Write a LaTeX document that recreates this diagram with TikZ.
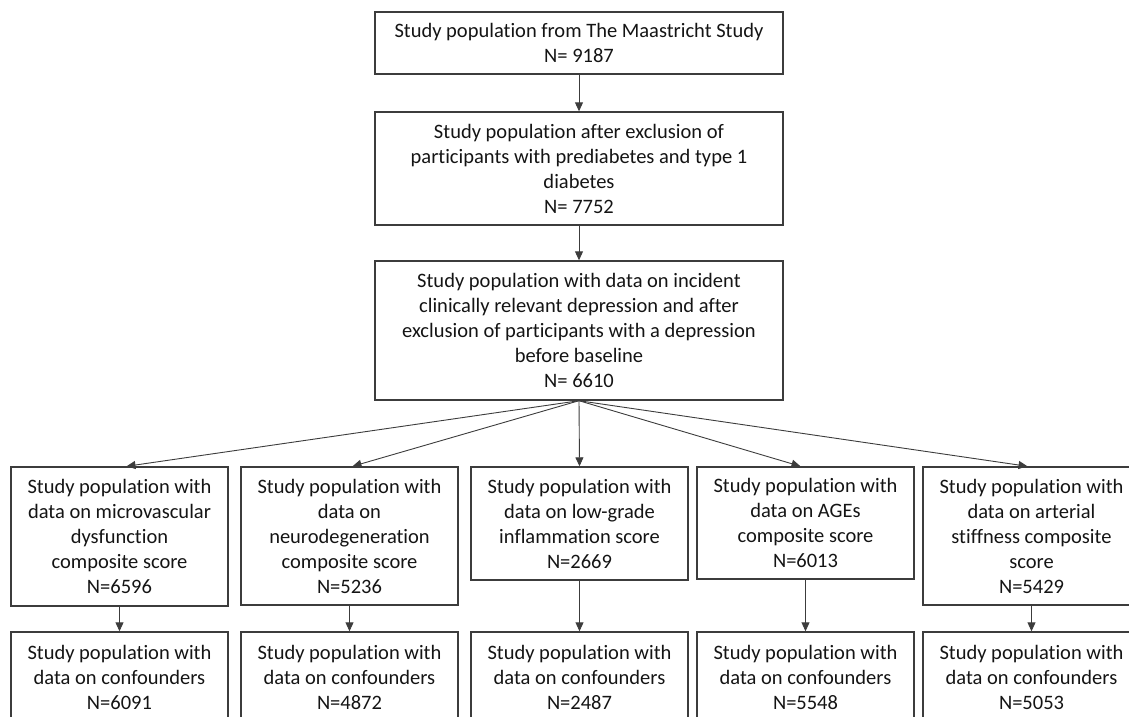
\documentclass[tikz,border=0pt]{standalone}
\usepackage{fontspec}
\setmainfont{Carlito}[Ligatures={NoCommon},RawFeature={-liga;-dlig;-calt}]
\usetikzlibrary{arrows.meta}
\definecolor{lineg}{HTML}{3C3C3C}
\definecolor{textc}{HTML}{141414}
\newcommand\tiNoLig{t\kern0pt i}
\tikzset{
  box/.style={draw=lineg, line width=1.4pt, inner sep=0pt, align=center,
    text=textc, font=\fontsize{20.5}{25}\selectfont},
  wide/.style={box, minimum width=408pt},
  col/.style={box, minimum width=217pt},
  conn/.style={draw=lineg, line width=0.9pt, -{Triangle[length=9pt,width=8pt]}}
}
\begin{document}
\begin{tikzpicture}[x=1pt,y=-1pt]
\useasboundingbox (0,0) rectangle (1129,716);
\clip (0,0) rectangle (1129,716);
\node[wide, minimum height=62pt] (t1) at (579,43) {Study popula\tiNoLig on from The Maastricht Study\\N= 9187};
\node[wide, minimum height=113pt] (t2) at (579,168.5) {Study popula\tiNoLig on after exclusion of\\par\tiNoLig cipants with prediabetes and type 1\\diabetes\\N= 7752};
\node[wide, minimum height=139pt] (t3) at (579,330.5) {Study popula\tiNoLig on with data on incident\\clinically relevant depression and after\\exclusion of par\tiNoLig cipants with a depression\\before baseline\\N= 6610};

\node[col, minimum height=139pt] (a1) at (119.5,536.5) {Study popula\tiNoLig on with\\data on microvascular\\dysfunc\tiNoLig on\\composite score\\N=6596};
\node[col, minimum height=138pt] (a2) at (349.5,536) {Study popula\tiNoLig on with\\data on\\neurodegenera\tiNoLig on\\composite score\\N=5236};
\node[col, minimum height=113pt] (a3) at (579.5,523.5) {Study popula\tiNoLig on with\\data on low-grade\\inflamma\tiNoLig on score\\N=2669};
\node[col, minimum height=112pt] (a4) at (805.5,523) {Study popula\tiNoLig on with\\data on AGEs\\composite score\\N=6013};
\node[col, minimum height=138pt] (a5) at (1031.5,536) {Study popula\tiNoLig on with\\data on arterial\\s\tiNoLig ffness composite\\score\\N=5429};

\node[col, minimum height=90pt] (b1) at (119.5,677) {Study popula\tiNoLig on with\\data on confounders\\N=6091};
\node[col, minimum height=90pt] (b2) at (349.5,677) {Study popula\tiNoLig on with\\data on confounders\\N=4872};
\node[col, minimum height=90pt] (b3) at (579.5,677) {Study popula\tiNoLig on with\\data on confounders\\N=2487};
\node[col, minimum height=90pt] (b4) at (805.5,677) {Study popula\tiNoLig on with\\data on confounders\\N=5548};
\node[col, minimum height=90pt] (b5) at (1031.5,677) {Study popula\tiNoLig on with\\data on confounders\\N=5053};

\draw[conn] (t1.south) -- (t2.north);
\draw[conn] (t2.south) -- (t3.north);
\draw[conn] (t3.south) -- ([xshift=7pt]a1.north);
\draw[conn] (t3.south) -- ([xshift=3pt]a2.north);
\draw[conn] (t3.south) -- (a3.north);
\draw[conn] (t3.south) -- ([xshift=-5pt]a4.north);
\draw[conn] (t3.south) -- ([xshift=-4pt]a5.north);
\draw[conn] (a1.south) -- (b1.north);
\draw[conn] (a2.south) -- (b2.north);
\draw[conn] (a3.south) -- (b3.north);
\draw[conn] (a4.south) -- (b4.north);
\draw[conn] (a5.south) -- (b5.north);
\end{tikzpicture}
\end{document}
